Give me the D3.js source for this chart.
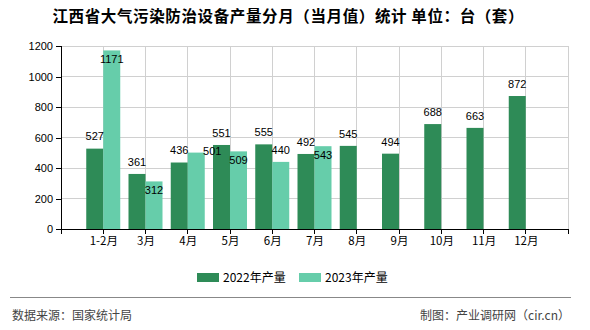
<!DOCTYPE html>
<html>
<head>
<meta charset="utf-8">
<script src="https://cdn.jsdelivr.net/npm/d3@7"></script>
<style>
html,body{margin:0;padding:0;background:#fff;}
svg{display:block;}
</style>
</head>
<body>
<svg id="chart" width="590" height="330"></svg>
<script>
const categories = ["1-2月","3月","4月","5月","6月","7月","8月","9月","10月","11月","12月"];
const values2022 = [527,361,436,551,555,492,545,494,688,663,872];
const values2023 = [1171,312,501,509,440,543,null,null,null,null,null];
const seriesNames = ["2022年产量","2023年产量"];
const yTicks = [0,200,400,600,800,1000,1200];
const labelPlace2023 = ["inside","inside","right","inside","above","inside"];

(function(){
const colors = ["#2e8b57","#66cdaa"];
const numFont = "'Liberation Sans', Arial, sans-serif";
const cjkFont = "'Noto Sans CJK SC', 'Liberation Sans', sans-serif";

const svg = d3.select("#chart");
const pL = 61, pR = 568, pT = 46, pB = 229;

const x = d3.scalePoint().domain(categories).range([pL, pR]).padding(1);
const y = d3.scaleLinear().domain([0,1200]).range([pB, pT]);
const barW = 17;

// title
svg.append("text")
  .attr("x", 288).attr("y", 22)
  .attr("text-anchor","middle")
  .attr("font-family", cjkFont)
  .attr("font-size", 15.5).attr("font-weight","bold")
  .attr("fill","#000")
  .attr("textLength", 471).attr("lengthAdjust","spacing")
  .text("江西省大气污染防治设备产量分月（当月值）统计 单位：台（套）");

// gridlines
const grid = svg.append("g");
yTicks.forEach(t => {
  if (t === 0) return;
  grid.append("line").attr("x1",pL).attr("x2",pR)
    .attr("y1",y(t)).attr("y2",y(t))
    .attr("stroke","#d0d0d0").attr("stroke-width",1).attr("shape-rendering","crispEdges");
});
const vPos = categories.map(c => x(c)).concat([pR]);
vPos.forEach(p => {
  grid.append("line").attr("x1",p).attr("x2",p)
    .attr("y1",pT).attr("y2",pB)
    .attr("stroke","#d0d0d0").attr("stroke-width",1).attr("shape-rendering","crispEdges");
});

// bars
const g = svg.append("g");
categories.forEach((c,i) => {
  const cx = x(c);
  const v1 = values2022[i];
  g.append("rect").attr("x", cx - barW).attr("y", y(v1))
    .attr("width", barW).attr("height", pB - y(v1)).attr("fill", colors[0]);
  const v2 = values2023[i];
  if (v2 != null) {
    g.append("rect").attr("x", cx).attr("y", y(v2))
      .attr("width", barW).attr("height", pB - y(v2)).attr("fill", colors[1]);
  }
});

// labels
const lab = svg.append("g").attr("font-family", numFont).attr("font-size", 11).attr("fill","#000").attr("text-anchor","middle");
categories.forEach((c,i) => {
  const cx = x(c);
  const v1 = values2022[i];
  lab.append("text").attr("x", cx - barW/2).attr("y", y(v1) - 12).attr("dy","0.35em").text(v1);
  const v2 = values2023[i];
  if (v2 != null) {
    const p = labelPlace2023[i];
    let lx = cx + barW/2, ly = y(v2) + 8.5;
    if (p === "above") ly = y(v2) - 12;
    if (p === "right") { lx = cx + barW/2 + 16; ly = y(v2) - 1; }
    lab.append("text").attr("x", lx).attr("y", ly).attr("dy","0.35em").text(v2);
  }
});

// y axis
const yAxis = d3.axisLeft(y).tickValues(yTicks).tickSize(5).tickPadding(3).tickFormat(d3.format("d"));
const ya = svg.append("g").attr("transform",`translate(${pL},0)`).call(yAxis);
ya.select(".domain").attr("stroke","#000").attr("shape-rendering","crispEdges");
ya.selectAll(".tick line").attr("stroke","#000").attr("shape-rendering","crispEdges");
ya.selectAll(".tick text").attr("font-family", numFont).attr("font-size", 11).attr("fill","#000");

// x axis
const xAxis = d3.axisBottom(x).tickSize(0).tickPadding(8);
const xa = svg.append("g").attr("transform",`translate(0,${pB})`).call(xAxis);
xa.select(".domain").attr("d", `M${pL},0H${pR}`).attr("stroke","#000").attr("shape-rendering","crispEdges");
xa.selectAll(".tick text").attr("font-family", cjkFont).attr("font-size", 11.5).attr("fill","#000");
vPos.concat([pL]).forEach(p => {
  xa.append("line").attr("x1",p).attr("x2",p).attr("y1",0).attr("y2",5)
    .attr("stroke","#000").attr("shape-rendering","crispEdges");
});

// legend
const legX = [197, 299];
seriesNames.forEach((n,i) => {
  svg.append("rect").attr("x", legX[i]).attr("y", 273).attr("width", 22).attr("height", 9).attr("fill", colors[i]);
  svg.append("text").attr("x", legX[i] + 26).attr("y", 277.5).attr("dy","0.35em")
    .attr("font-family", cjkFont).attr("font-size", 12).attr("fill","#000").text(n);
});

// footer
svg.append("line").attr("x1",10).attr("x2",571).attr("y1",297.5).attr("y2",297.5)
  .attr("stroke","#888").attr("stroke-width",1);
svg.append("text").attr("x",12).attr("y",316).attr("dy","0.35em")
  .attr("font-family", cjkFont).attr("font-size",12).attr("fill","#444").text("数据来源：国家统计局");
svg.append("text").attr("x",570).attr("y",316).attr("dy","0.35em").attr("text-anchor","end")
  .attr("font-family", cjkFont).attr("font-size",12).attr("fill","#444").text("制图：产业调研网（cir.cn）");
})();
</script>
</body>
</html>
